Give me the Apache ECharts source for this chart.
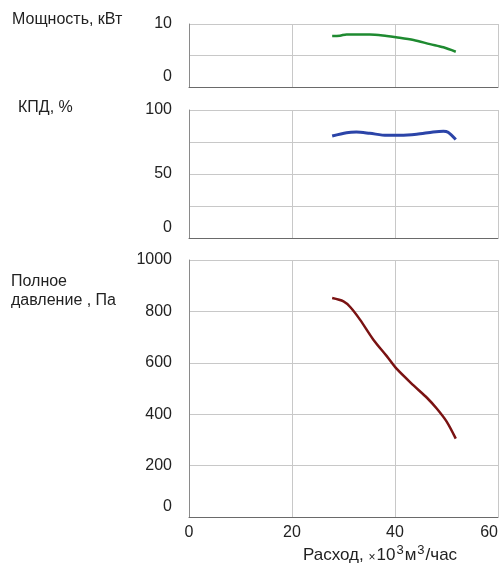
<!DOCTYPE html>
<html>
<head>
<meta charset="utf-8">
<script src="https://cdn.jsdelivr.net/npm/echarts@6/dist/echarts.min.js"></script>
<style>html,body{margin:0;padding:0;background:#fff}#c{width:500px;height:565px}</style>
</head>
<body>
<div id="c"></div>
<script>
// Flow, x10^3 m3/h
var xTicks = [0, 20, 40, 60];
var powerFlow = [27.8, 29.3, 30.6, 35.1, 38.4, 40.2, 43.6, 46.8, 49.4, 51.8];
var powerVals = [8.1, 8.15, 8.35, 8.35, 8.1, 7.9, 7.45, 6.8, 6.3, 5.6];
var effFlow = [27.8, 30.6, 32.5, 35.1, 38.4, 41.0, 44.2, 47.4, 49.4, 50.3, 51.8];
var effVals = [79.7, 82.3, 82.8, 81.8, 80.2, 80.2, 81.0, 82.8, 83.4, 82.6, 76.9];
var presFlow = [27.8, 30.0, 31.3, 33.2, 35.8, 38.4, 40.3, 43.6, 46.2, 48.1, 50.0, 51.8];
var presVals = [852, 839, 817, 768, 690, 626, 577, 512, 464, 422, 372, 305];
var powerTicks = [0, 10];
var effTicks = [0, 50, 100];
var presTicks = [0, 200, 400, 600, 800, 1000];

function pairs(xs, ys){ return xs.map(function(x,i){ return [x, ys[i]]; }); }

var FONT = '"Liberation Sans", Arial, sans-serif';
var chart = echarts.init(document.getElementById('c'), null, {renderer:'canvas'});

function yLabel(ticks){
  return {
    show: true, fontSize: 16, color: '#222', fontFamily: FONT, margin: 17,
    formatter: function(v){
      if (ticks.indexOf(v) < 0) return '';
      if (v === 0) return '{z|0}';
      return String(v);
    },
    rich: { z: { fontSize: 16, color: '#222', fontFamily: FONT, padding: [0,0,21,0] } }
  };
}
function xAxisDef(idx, showLabel){
  return {
    type: 'value', gridIndex: idx, min: 0, max: 60, interval: 20,
    axisLine: { show: true, lineStyle: { color: '#6a6a6a', width: 1 } },
    axisTick: { show: false },
    splitLine: { show: true, lineStyle: { color: '#c8c8c8', width: 1 } },
    axisLabel: showLabel ? {
      show: true, fontSize: 16, color: '#222', fontFamily: FONT, margin: 8,
      alignMaxLabel: 'right',
      formatter: function(v){ return xTicks.indexOf(v) >= 0 ? String(v) : ''; }
    } : { show: false }
  };
}
function yAxisDef(idx, max, interval, ticks){
  return {
    type: 'value', gridIndex: idx, min: 0, max: max, interval: interval,
    axisLine: { show: true, lineStyle: { color: '#8a8a8a', width: 1 } },
    axisTick: { show: false },
    splitLine: { show: true, lineStyle: { color: '#c8c8c8', width: 1 } },
    axisLabel: yLabel(ticks)
  };
}

var option = {
  animation: false,
  grid: [
    { left: 189, top: 24, width: 309, height: 63, containLabel: false, outerBoundsMode: 'none' },
    { left: 189, top: 110, width: 309, height: 128, containLabel: false, outerBoundsMode: 'none' },
    { left: 189, top: 260, width: 309, height: 257, containLabel: false, outerBoundsMode: 'none' }
  ],
  xAxis: [ xAxisDef(0, false), xAxisDef(1, false), xAxisDef(2, true) ],
  yAxis: [
    yAxisDef(0, 10, 5, powerTicks),
    yAxisDef(1, 100, 25, effTicks),
    yAxisDef(2, 1000, 200, presTicks)
  ],
  series: [
    { type: 'line', xAxisIndex: 0, yAxisIndex: 0, data: pairs(powerFlow, powerVals), smooth: 0.3,
      showSymbol: false, lineStyle: { color: '#1e8a30', width: 2.5 } },
    { type: 'line', xAxisIndex: 1, yAxisIndex: 1, data: pairs(effFlow, effVals), smooth: 0.3,
      showSymbol: false, lineStyle: { color: '#2b44a8', width: 3 } },
    { type: 'line', xAxisIndex: 2, yAxisIndex: 2, data: pairs(presFlow, presVals), smooth: 0.3,
      showSymbol: false, lineStyle: { color: '#7a1212', width: 2.5 } }
  ],
  graphic: [
    { type: 'text', left: 12, top: 12, style: { text: 'Мощность, кВт', font: '16px ' + FONT, fill: '#222' } },
    { type: 'text', left: 18, top: 100, style: { text: 'КПД, %', font: '16px ' + FONT, fill: '#222' } },
    { type: 'text', left: 11, top: 272, style: { text: 'Полное\nдавление , Па', font: '16px ' + FONT, fill: '#222', lineHeight: 19 } },
    { type: 'text', left: 303, top: 544, style: {
        text: 'Расход, {s|×}10{u|3}м{u|3}/час',
        font: '17px ' + FONT, fill: '#222', lineHeight: 22, verticalAlign: 'top',
        rich: {
          s: { fontSize: 12, fontFamily: FONT, fill: '#222', verticalAlign: 'bottom', lineHeight: 22, padding: [0,1,2,0] },
          u: { fontSize: 13, fontFamily: FONT, fill: '#222', verticalAlign: 'top', lineHeight: 22, padding: [0,1,0,1] }
        }
    } }
  ]
};
chart.setOption(option);
</script>
</body>
</html>
